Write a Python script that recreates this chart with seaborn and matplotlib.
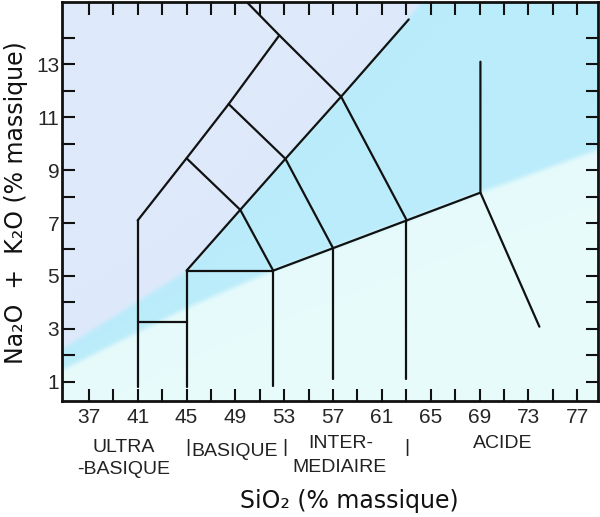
import numpy as np
import pandas as pd
import matplotlib
matplotlib.use("Agg")
import matplotlib.pyplot as plt
import seaborn as sns

sns.set_style("ticks")
plt.rcParams['font.family'] = ['Liberation Sans', 'DejaVu Sans']

# ---- data -------------------------------------------------------------
x_tick_values = [37, 41, 45, 49, 53, 57, 61, 65, 69, 73, 77]
x_tick_labels = ['37', '41', '45', '49', '53', '57', '61', '65', '69', '73', '77']
x_minor_ticks = [39, 43, 47, 51, 55, 59, 63, 67, 71, 75]
y_tick_values = [1, 3, 5, 7, 9, 11, 13]
y_tick_labels = ['1', '3', '5', '7', '9', '11', '13']
y_minor_ticks = [2, 4, 6, 8, 10, 12, 14]

# TAS field boundaries (SiO2, Na2O+K2O), one polyline per segment
seg_ultra_41 = ([41, 41], [0.8, 7.1])
seg_upper_left = ([41, 45, 48.45, 52.6, 49.93], [7.1, 9.45, 11.5, 14.1, 15.36])
seg_41_45_low = ([41, 45], [3.25, 3.25])
seg_basic_45 = ([45, 45], [0.8, 5.2])
seg_45_52_h = ([45, 52.1], [5.2, 5.2])
seg_diag_main = ([45, 49.4, 53.1, 57.66, 63.2], [5.2, 7.5, 9.43, 11.78, 14.7])
seg_a = ([45, 49.4, 52.1], [9.45, 7.5, 5.2])
seg_b = ([48.45, 53.1, 57.0], [11.5, 9.43, 6.05])
seg_c = ([52.6, 57.66, 63.04], [14.1, 11.78, 7.1])
seg_52 = ([52.1, 52.1], [0.85, 5.2])
seg_lower = ([52.1, 57.0, 63.04, 69.07], [5.2, 6.05, 7.1, 8.15])
seg_57 = ([57.0, 57.0], [1.1, 6.05])
seg_63 = ([63.0, 63.0], [1.1, 7.1])
seg_acid = ([69.07, 69.07, 73.9], [13.1, 8.15, 3.08])

segments = [seg_ultra_41, seg_upper_left, seg_41_45_low, seg_basic_45, seg_45_52_h,
            seg_diag_main, seg_a, seg_b, seg_c, seg_52, seg_lower, seg_57, seg_63, seg_acid]

# background colour zones (boundaries)
zone_upper_x = [34.0, 45.1, 53.07, 57.66, 64.38, 70.0]
zone_upper_y = [2.0, 5.22, 9.46, 11.76, 15.43, 18.6]
zone_lower_x = [34.0, 45.1, 52.1, 57.0, 63.04, 69.07, 79.5]
zone_lower_y = [1.25, 3.8, 5.2, 6.05, 7.1, 8.15, 9.9]

xlim = (34.8, 78.7)
ylim = (0.27, 15.36)

# ---- figure -----------------------------------------------------------
fig = plt.figure(figsize=(6.0, 5.17), dpi=100)
ax = fig.add_axes([62 / 600, 1 - 401 / 517, 536 / 600, 399 / 517])

# background
nx, ny = 700, 500
gx = np.linspace(xlim[0], xlim[1], nx)
gy = np.linspace(ylim[0], ylim[1], ny)
X, Y = np.meshgrid(gx, gy)
pxu = 26.45  # px per y unit
up = np.interp(X, zone_upper_x, zone_upper_y)
lo = np.interp(X, zone_lower_x, zone_lower_y)
s = 1.5
w_lav = 1 / (1 + np.exp(-(Y - up) * pxu / s))
w_top = 1 / (1 + np.exp(-(Y - lo) * pxu / s))
lav = np.array([222, 233, 250]) / 255
cyan = np.array([186, 236, 251]) / 255
pale = np.array([232, 251, 251]) / 255
upper_col = cyan[None, None, :] * (1 - w_lav[..., None]) + lav[None, None, :] * w_lav[..., None]
img = pale[None, None, :] * (1 - w_top[..., None]) + upper_col * w_top[..., None]
ax.imshow(img, extent=(xlim[0], xlim[1], ylim[0], ylim[1]), origin='lower',
          aspect='auto', zorder=0, interpolation='bilinear')

rows = []
for i, (xs, ys) in enumerate(segments):
    for k, (xv, yv) in enumerate(zip(xs, ys)):
        rows.append({'seg': i, 'order': k, 'SiO2': xv, 'alk': yv})
df = pd.DataFrame(rows)
sns.lineplot(data=df, x='SiO2', y='alk', units='seg', estimator=None, sort=False,
             color='#111111', linewidth=1.6, ax=ax, zorder=3)

ax.set_xlim(*xlim)
ax.set_ylim(*ylim)
ax.set_xticks(x_tick_values)
ax.set_xticklabels(x_tick_labels)
ax.set_xticks(x_minor_ticks, minor=True)
ax.set_yticks(y_tick_values)
ax.set_yticklabels(y_tick_labels)
ax.set_yticks(y_minor_ticks, minor=True)
ax.tick_params(which='both', direction='in', length=9, width=1.5, color='#111111',
               top=True, right=True)
ax.tick_params(axis='x', which='major', labelsize=15, pad=5)
ax.tick_params(axis='y', which='major', labelsize=15, pad=2)
for sp in ax.spines.values():
    sp.set_visible(True)
    sp.set_linewidth(2)
    sp.set_color('#111111')
ax.set_xlabel('')
ax.set_ylabel('')

def ftext(px, py, s, **kw):
    fig.text(px / 600, 1 - py / 517, s, ha='center', va='center', **kw)

cat_kw = dict(fontsize=14, color='#222222')
ftext(124, 447, 'ULTRA', **cat_kw)
ftext(124, 470, '-BASIQUE', **cat_kw)
ftext(188, 448, '|', **cat_kw)
ftext(235, 451, 'BASIQUE', **cat_kw)
ftext(285, 448, '|', **cat_kw)
ftext(341, 443, 'INTER-', **cat_kw)
ftext(340, 467, 'MEDIAIRE', **cat_kw)
ftext(407, 448, '|', **cat_kw)
ftext(503, 444, 'ACIDE', **cat_kw)

ftext(349, 501, 'SiO₂ (% massique)', fontsize=17, family=['DejaVu Sans'], color='#111111')
ftext(16, 203, 'Na₂O  +  K₂O (% massique)', fontsize=17, family=['DejaVu Sans'],
      color='#111111', rotation=90)

fig.savefig('out.png', dpi=100)
